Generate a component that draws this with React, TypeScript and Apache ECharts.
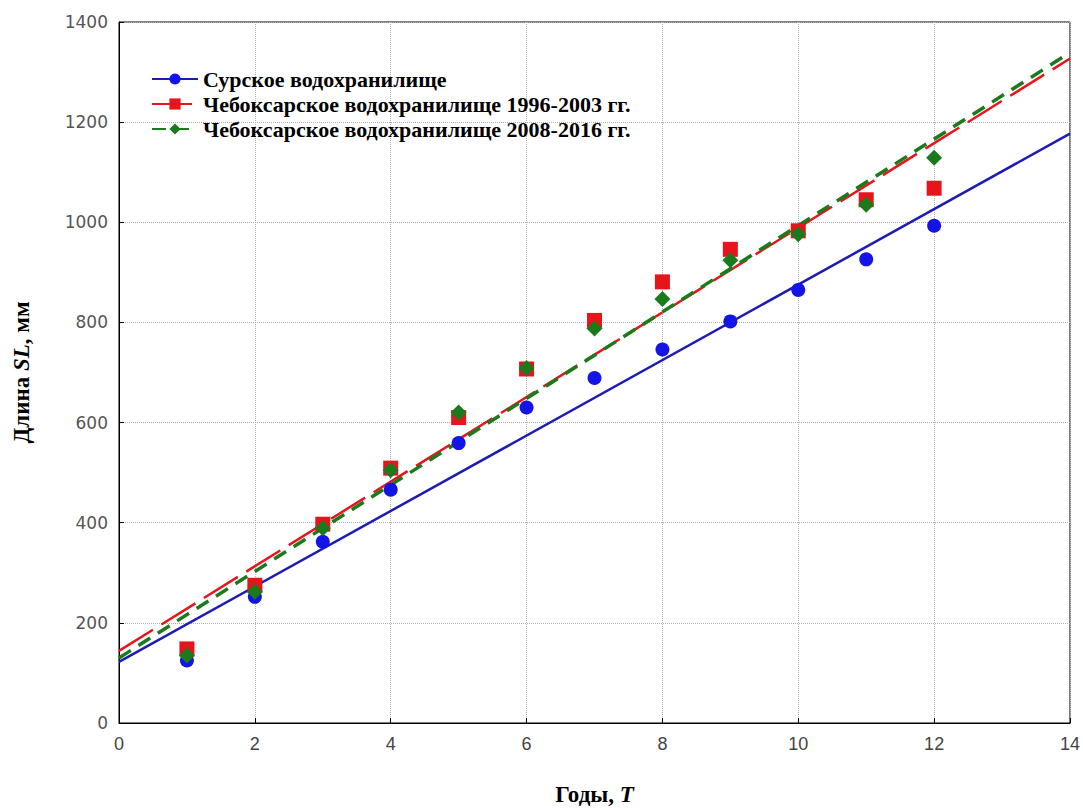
import React, { useEffect, useRef } from "react";
import * as echarts from "echarts";

const years = [1, 2, 3, 4, 5, 6, 7, 8, 9, 10, 11, 12];
const sura = [125, 252, 362, 466, 559, 630, 689, 746, 802, 865, 926, 993];
const cheb1996 = [148, 275, 397, 509, 610, 707, 804, 881, 946, 983, 1045, 1068];
const cheb2008 = [135, 262, 389, 505, 620, 709, 788, 847, 924, 976, 1035, 1129];

const fitX = [0, 14];
const suraFit = [122, 1177];
const cheb1996Fit = [144, 1327];
const cheb2008Fit = [130, 1339];

const names = [
  "Сурское водохранилище",
  "Чебоксарское водохранилище 1996-2003 гг.",
  "Чебоксарское водохранилище 2008-2016 гг.",
];

const BLUE = "#1414e6";
const BLUE_LINE = "#1c1cb4";
const RED = "#e8141c";
const GREEN = "#1b7a1b";

const pairs = (xs: number[], ys: number[]) => xs.map((x, i) => [x, ys[i]]);

export default function App() {
  const ref = useRef<HTMLDivElement>(null);
  useEffect(() => {
    if (!ref.current) return;
    const chart = echarts.init(ref.current, null, { renderer: "svg" });
    const serif = "Liberation Serif, Times New Roman, serif";
    const nameStyle = (size: number) => ({
      fontFamily: serif,
      fontWeight: "bold",
      fontStyle: "normal",
      fontSize: size,
      color: "#000",
      rich: {
        i: { fontFamily: serif, fontWeight: "bold", fontStyle: "italic", fontSize: size, color: "#000" },
      },
    });
    chart.setOption({
      animation: false,
      backgroundColor: "#ffffff",
      grid: {
        left: 119,
        right: 13,
        top: 22,
        bottom: 80,
        show: true,
        borderColor: "#000",
        borderWidth: 1,
        backgroundColor: "transparent",
      },
      legend: {
        left: 146,
        top: 63,
        orient: "vertical",
        itemWidth: 46,
        itemHeight: 14,
        itemGap: 3,
        data: names,
        textStyle: {
          fontFamily: serif,
          fontWeight: "bold",
          fontSize: 22,
          color: "#000",
        },
      },
      xAxis: {
        type: "value",
        min: 0,
        max: 14,
        interval: 2,
        name: "Годы, {i|T}",
        nameLocation: "middle",
        nameGap: 60,
        nameTextStyle: nameStyle(23),
        axisLine: { lineStyle: { color: "#000", width: 1 } },
        axisTick: { inside: true, length: 5, lineStyle: { color: "#000" } },
        axisLabel: {
          margin: 12,
          fontFamily: "Liberation Sans Narrow, Liberation Sans, sans-serif",
          fontSize: 18,
          color: "#444",
        },
        splitLine: { show: true, lineStyle: { color: "#b0b0b0", type: "dotted", width: 1 } },
      },
      yAxis: {
        type: "value",
        min: 0,
        max: 1400,
        interval: 200,
        name: "Длина {i|SL}, мм",
        nameLocation: "middle",
        nameGap: 86,
        nameTextStyle: nameStyle(23),
        axisLine: { show: true, lineStyle: { color: "#000", width: 1 } },
        axisTick: { show: true, inside: true, length: 5, lineStyle: { color: "#000" } },
        axisLabel: {
          margin: 11,
          fontFamily: "DejaVu Sans, sans-serif",
          fontSize: 17,
          color: "#555",
          formatter: (v: number) => String(v),
        },
        splitLine: { show: true, lineStyle: { color: "#b0b0b0", type: "dotted", width: 1 } },
      },
      series: [
        {
          name: names[0],
          type: "line",
          data: pairs(fitX, suraFit),
          showSymbol: false,
          symbol: "circle",
          symbolSize: 13,
          itemStyle: { color: BLUE },
          lineStyle: { color: BLUE_LINE, width: 2.5, type: "solid" },
          z: 2,
        },
        {
          name: names[1],
          type: "line",
          data: pairs(fitX, cheb1996Fit),
          showSymbol: false,
          symbol: "rect",
          symbolSize: 14,
          itemStyle: { color: RED },
          lineStyle: { color: RED, width: 2.5, type: [40, 10] },
          z: 2,
        },
        {
          name: names[2],
          type: "line",
          data: pairs(fitX, cheb2008Fit),
          showSymbol: false,
          symbol: "diamond",
          symbolSize: 16,
          itemStyle: { color: GREEN },
          lineStyle: { color: GREEN, width: 3.5, type: [14, 9] },
          z: 3,
        },
        {
          name: "sura-pts",
          type: "scatter",
          data: pairs(years, sura),
          symbol: "circle",
          symbolSize: 14,
          itemStyle: { color: BLUE, opacity: 1 },
          z: 4,
        },
        {
          name: "cheb1996-pts",
          type: "scatter",
          data: pairs(years, cheb1996),
          symbol: "rect",
          symbolSize: 15,
          itemStyle: { color: RED, opacity: 1 },
          z: 5,
        },
        {
          name: "cheb2008-pts",
          type: "scatter",
          data: pairs(years, cheb2008),
          symbol: "diamond",
          symbolSize: 16,
          itemStyle: { color: GREEN, opacity: 1 },
          z: 6,
        },
      ],
    });
    return () => chart.dispose();
  }, []);
  return (
    <div
      ref={ref}
      style={{ position: "fixed", left: 0, top: 0, width: 1083, height: 811, background: "#fff" }}
    />
  );
}
